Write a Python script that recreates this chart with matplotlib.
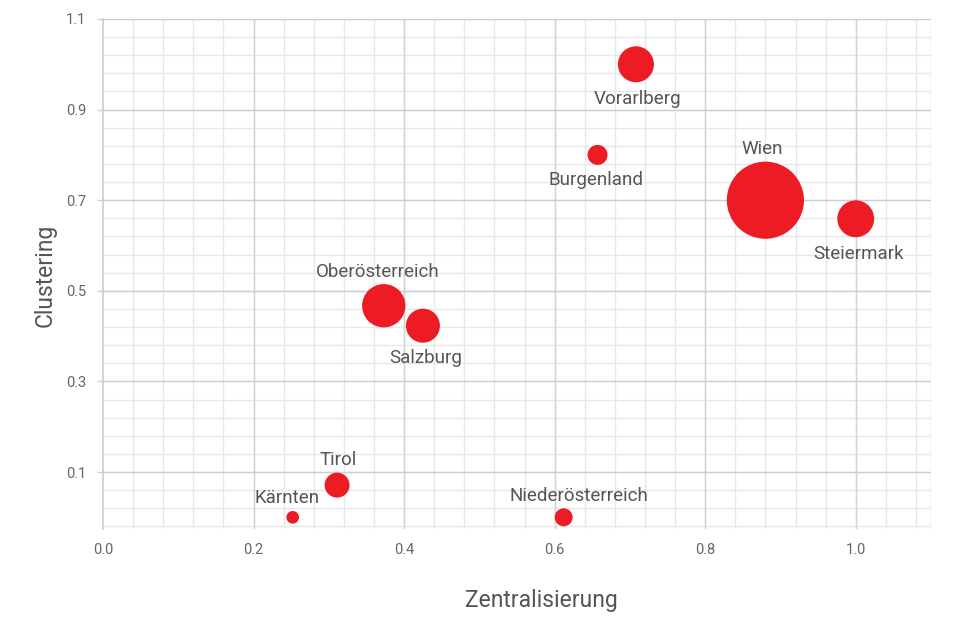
import numpy as np
import matplotlib.pyplot as plt

plt.rcParams["font.family"] = ["Roboto", "DejaVu Sans"]

# Bundesländer: Zentralisierung (x), Clustering (y), Blasengröße (Fläche, rel.)
regions = [
    "Vorarlberg", "Burgenland", "Wien", "Steiermark", "Oberösterreich",
    "Salzburg", "Tirol", "Kärnten", "Niederösterreich",
]
zentralisierung = [0.708, 0.657, 0.880, 1.000, 0.373, 0.425, 0.311, 0.252, 0.612]
clustering = [1.000, 0.800, 0.700, 0.659, 0.467, 0.423, 0.071, 0.000, 0.000]
weight = [325, 100, 1490, 340, 470, 290, 156, 40, 81]

x_ticks = [0.0, 0.2, 0.4, 0.6, 0.8, 1.0]
y_ticks = [0.1, 0.3, 0.5, 0.7, 0.9, 1.1]

# label offsets in points (dx, dy): above / below the bubble
label_offsets = {
    "Vorarlberg": (1, -25),
    "Burgenland": (-1, -18),
    "Wien": (-2, 37),
    "Steiermark": (2, -25),
    "Oberösterreich": (-4, 24),
    "Salzburg": (2, -23),
    "Tirol": (1, 18),
    "Kärnten": (-4, 14),
    "Niederösterreich": (11, 15),
}

RED = "#ED1C24"
TEXT = "#555555"

fig = plt.figure(figsize=(9.64, 6.22), dpi=100)
ax = fig.add_axes([103 / 964, 1 - 529 / 622, 828 / 964, 510 / 622])

ax.set_xlim(0, 1.1)
ax.set_ylim(-0.0258, 1.1)

# grid: minor every 0.04, major at ticks
for v in np.arange(0.04, 1.1, 0.04):
    ax.axvline(v, color="#e8e8e8", lw=1, zorder=0)
for v in np.arange(-0.02, 1.1, 0.04):
    ax.axhline(v, color="#e8e8e8", lw=1, zorder=0)
for v in x_ticks[1:] + [1.1]:
    ax.axvline(v, color="#d2d2d2", lw=1, zorder=0.5)
for v in y_ticks:
    ax.axhline(v, color="#cdcdd4", lw=1, zorder=0.5)

for side in ["top", "right", "bottom"]:
    ax.spines[side].set_visible(False)
ax.spines["left"].set_color("#cccccc")
ax.spines["left"].set_linewidth(1.2)

sizes = [2.07 * w for w in weight]
ax.scatter(zentralisierung, clustering, s=sizes, color=RED, linewidths=0, zorder=3)

for name, x, y in zip(regions, zentralisierung, clustering):
    dx, dy = label_offsets[name]
    ax.annotate(name, (x, y), xytext=(dx, dy), textcoords="offset points",
                ha="center", va="center", fontsize=13.5, color=TEXT, zorder=4)

ax.set_xticks(x_ticks)
ax.set_xticklabels([f"{v:.1f}" for v in x_ticks])
ax.set_yticks(y_ticks)
ax.set_yticklabels([f"{v:.1f}" for v in y_ticks])
ax.tick_params(axis="x", length=0, pad=10, labelsize=10.5, labelcolor="#666666")
ax.tick_params(axis="y", length=4, width=1, color="#cdcdd4", pad=8,
               labelsize=10.5, labelcolor="#666666")

fig.text(541 / 964, 1 - 600 / 622, "Zentralisierung", ha="center", va="center",
         fontsize=16.5, color=TEXT)
fig.text(45 / 964, 1 - 275 / 622, "Clustering", ha="center", va="center",
         rotation=90, fontsize=16.5, color=TEXT)

fig.savefig("out.png", dpi=100)
